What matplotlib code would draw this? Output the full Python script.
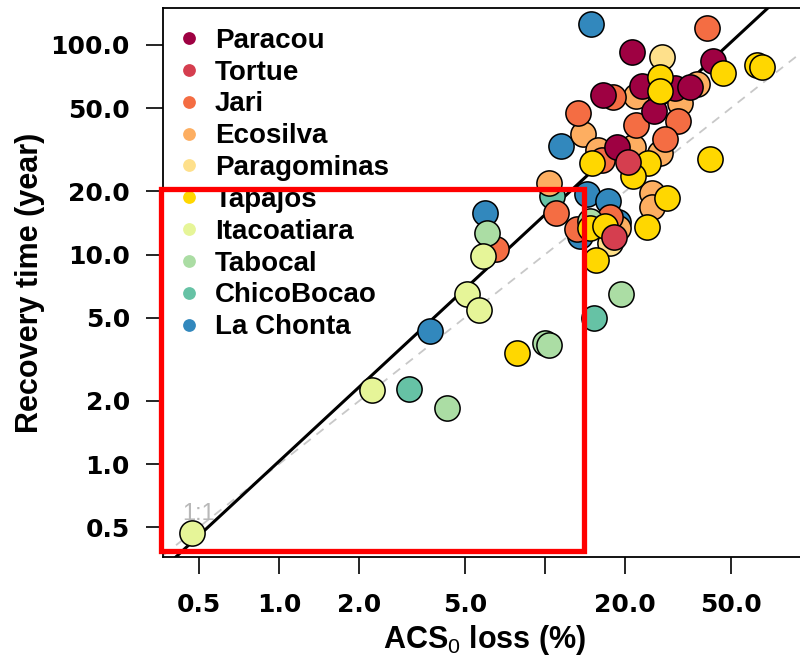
import matplotlib
matplotlib.use("Agg")
import matplotlib.pyplot as plt
from matplotlib.lines import Line2D
from matplotlib.patches import Rectangle
import numpy as np

plt.rcParams['font.family'] = ['Liberation Sans', 'DejaVu Sans']
plt.rcParams['mathtext.fontset'] = 'custom'
plt.rcParams['mathtext.rm'] = 'Liberation Sans'
plt.rcParams['mathtext.it'] = 'Liberation Sans:italic'
plt.rcParams['mathtext.bf'] = 'Liberation Sans:bold'

# ---- data (ACS0 loss %, recovery time years) ----
sites = ["Paracou", "Tortue", "Jari", "Ecosilva", "Paragominas", "Tapajos",
         "Itacoatiara", "Tabocal", "ChicoBocao", "La Chonta"]
site_colors = ["#9E0142", "#D53E4F", "#F46D43", "#FDAE61", "#FEE08B", "#FFD700",
               "#E6F598", "#ABDDA4", "#66C2A5", "#3288BD"]

paracou_x = [21.2, 42.8, 23.2, 30.8, 35.1, 16.5, 25.7, 18.7]
paracou_y = [92.6, 83.9, 63.7, 62.3, 63.0, 57.7, 48.4, 32.6]
tortue_x = [20.5, 18.2]
tortue_y = [27.7, 12.1]
jari_x = [40.6, 18.0, 13.3, 22.0, 31.6, 28.3, 16.4, 11.0, 13.2, 17.6, 6.54]
jari_y = [120.5, 56.5, 47.4, 41.5, 43.4, 35.6, 28.3, 15.8, 13.2, 15.1, 10.6]
ecosilva_x = [37.3, 22.0, 32.2, 13.9, 15.8, 21.4, 27.1, 10.4, 25.3, 25.3, 18.8]
ecosilva_y = [65.2, 57.1, 52.9, 37.6, 31.5, 32.6, 30.5, 21.9, 19.7, 16.9, 13.4]
paragominas_x = [27.5, 17.6]
paragominas_y = [87.6, 11.3]
tapajos_x = [46.7, 62.7, 65.4, 27.1, 27.1, 15.0, 24.4, 21.4, 41.7, 28.7, 24.2, 14.8, 16.8, 15.6, 7.85]
tapajos_y = [73.5, 80.3, 78.5, 70.4, 60.3, 27.3, 27.3, 23.7, 28.6, 18.6, 13.5, 13.4, 13.7, 9.4, 3.39]
itacoatiara_x = [5.85, 5.09, 5.65, 2.24, 0.471]
itacoatiara_y = [9.84, 6.48, 5.43, 2.26, 0.469]
tabocal_x = [6.05, 14.8, 19.3, 10.0, 10.4, 4.28]
tabocal_y = [12.7, 14.5, 6.48, 3.78, 3.70, 1.85]
chicobocao_x = [10.6, 15.3, 3.08]
chicobocao_y = [19.0, 4.98, 2.28]
lachonta_x = [14.9, 11.5, 14.4, 17.3, 13.5, 18.8, 5.95, 3.70]
lachonta_y = [126.0, 33.0, 19.4, 18.0, 12.3, 14.3, 15.8, 4.31]

# log10(y) = fit_intercept + fit_slope * log10(x)
fit_intercept = 0.013
fit_slope = 1.177

x_ticks = [0.5, 1, 2, 5, 10, 20, 50]
x_ticklabels = ["0.5", "1.0", "2.0", "5.0", "", "20.0", "50.0"]
y_ticks = [0.5, 1, 2, 5, 10, 20, 50, 100]
y_ticklabels = ["0.5", "1.0", "2.0", "5.0", "10.0", "20.0", "50.0", "100.0"]

site_data = {
    "Paracou": (paracou_x, paracou_y),
    "Tortue": (tortue_x, tortue_y),
    "Jari": (jari_x, jari_y),
    "Ecosilva": (ecosilva_x, ecosilva_y),
    "Paragominas": (paragominas_x, paragominas_y),
    "Tapajos": (tapajos_x, tapajos_y),
    "Itacoatiara": (itacoatiara_x, itacoatiara_y),
    "Tabocal": (tabocal_x, tabocal_y),
    "ChicoBocao": (chicobocao_x, chicobocao_y),
    "La Chonta": (lachonta_x, lachonta_y),
}
draw_order = ["ChicoBocao", "La Chonta", "Ecosilva", "Jari", "Tabocal", "Itacoatiara",
              "Paragominas", "Paracou", "Tapajos", "Tortue"]

fig = plt.figure(figsize=(8.0, 6.63), dpi=100)
ax = fig.add_axes([0.2041, 0.1599, 0.7959, 0.8276])
ax.set_xscale('log')
ax.set_yscale('log')
xlim = (0.367, 91.0)
ylim = (0.36, 149.7)
ax.set_xlim(*xlim)
ax.set_ylim(*ylim)

# 1:1 line
xx = np.array(xlim)
ax.plot(xx, xx, ls=(0, (5, 4)), color='#C8C8C8', lw=1.3, zorder=1)
ax.text(0.5, 0.54, "1:1", color='#B8B8B8', fontsize=17, ha='center', va='baseline', zorder=1)
# regression line
ax.plot(xx, 10 ** (fit_intercept + fit_slope * np.log10(xx)), color='black', lw=2.2, zorder=2)

color_of = dict(zip(sites, site_colors))
for k, s in enumerate(draw_order):
    xs, ys = site_data[s]
    ax.scatter(xs, ys, s=330, c=color_of[s], edgecolors='black', linewidths=1.1, zorder=3 + k)

handles = [Line2D([], [], ls='none', marker='o', markersize=9.2, markerfacecolor=c,
                  markeredgecolor='none', label=s) for s, c in zip(sites, site_colors)]
leg = ax.legend(handles=handles, loc='upper left', bbox_to_anchor=(-0.0079, 1.0), frameon=False,
                prop={'family': 'Liberation Sans', 'weight': 'bold', 'size': 20},
                labelspacing=0.21, handlelength=0.8, handletextpad=0.53, borderaxespad=0.3,
                borderpad=0.4)
leg.set_zorder(50)

ax.xaxis.set_minor_locator(matplotlib.ticker.NullLocator())
ax.yaxis.set_minor_locator(matplotlib.ticker.NullLocator())
ax.set_xticks(x_ticks)
ax.set_xticklabels(x_ticklabels)
ax.set_yticks(y_ticks)
ax.set_yticklabels(y_ticklabels)
for lab in ax.get_xticklabels() + ax.get_yticklabels():
    lab.set_family('DejaVu Sans')
    lab.set_fontweight('bold')
    lab.set_fontsize(18)
ax.tick_params(axis='both', which='major', length=12, width=1.2, color='black')
ax.tick_params(axis='x', pad=14)
ax.tick_params(axis='y', pad=12)

for side in ['left', 'top', 'bottom']:
    ax.spines[side].set_linewidth(1.3)
ax.spines['right'].set_visible(False)

ax.set_xlabel(r"ACS$_{\mathrm{0}}$ loss (%)", fontsize=22, fontweight='bold')
ax.set_ylabel("Recovery time (year)", fontsize=22, fontweight='bold')
ax.xaxis.set_label_coords(0.505, -0.12)
ax.yaxis.set_label_coords(-0.185, 0.5)

# highlight rectangle (figure coordinates)
fig.patches.append(Rectangle((0.2013, 0.1682), 0.7306 - 0.2013, 0.7142 - 0.1682,
                             transform=fig.transFigure, fill=False, edgecolor='#FF0000',
                             lw=3.8, zorder=100))

fig.savefig("out.png", dpi=100)
